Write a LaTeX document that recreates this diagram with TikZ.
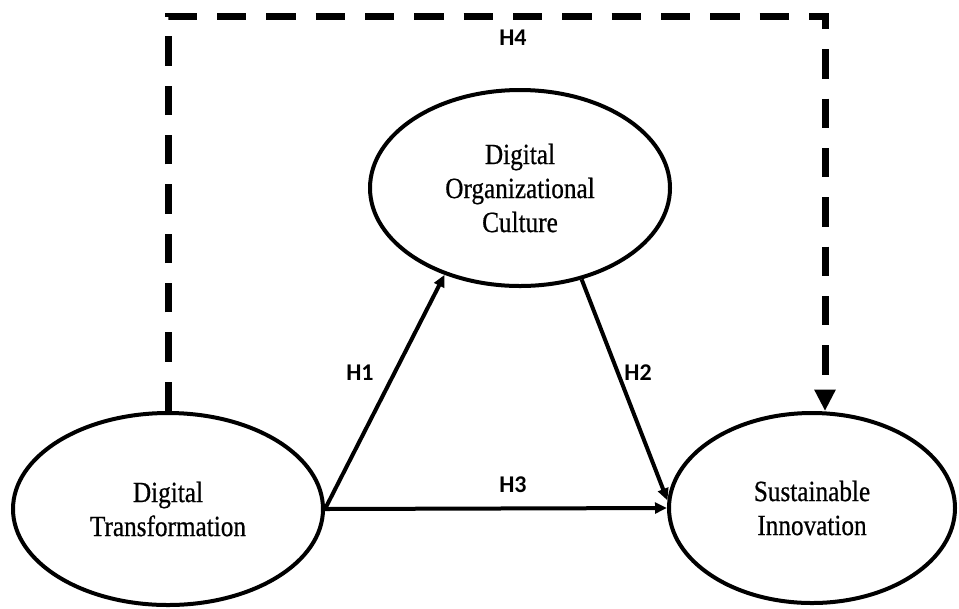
\documentclass[tikz,border=0pt]{standalone}
\usepackage{fontspec}
\setmainfont{Liberation Serif}[FakeStretch=0.86,FakeBold=0.6]
\newfontfamily\labelfont{Carlito}
\usetikzlibrary{shapes.geometric,arrows.meta}

\tikzset{
  construct/.style={draw, ellipse, line width=3pt, inner sep=0pt, align=center,
    font=\fontsize{22}{25.5}\selectfont},
  path arrow/.style={line width=3pt, -{Triangle[length=9pt,width=8pt]}},
  total arrow/.style={line width=5.25pt, dash pattern=on 22pt off 15pt,
    -{Triangle[length=16pt,width=15pt]}},
  hyp label/.style={font=\labelfont\bfseries\fontsize{18}{20}\selectfont}
}

\begin{document}
\begin{tikzpicture}[x=0.75pt,y=0.75pt,yscale=-1,xscale=1]
\useasboundingbox (0,0) rectangle (959,608);

%Constructs
\node[construct, minimum width=232.5pt, minimum height=144pt] (dt) at (168,509) {Digital\\Transformation};
\node[construct, minimum width=225pt, minimum height=147pt] (doc) at (520,188) {Digital\\Organizational\\Culture};
\node[construct, minimum width=214.5pt, minimum height=142.5pt] (si) at (812,508) {Sustainable\\Innovation};

%Direct paths
\draw[path arrow] (dt.east) -- (doc.229);
\draw[path arrow] (doc.304) -- (si.177);
\draw[path arrow] (dt.east) -- (si.west);

%Total effect (dashed)
\coordinate (h4corner) at (825,16);
\draw[total arrow] (dt.north) |- (h4corner) -- (h4corner |- si.north);

%Hypothesis labels
\node[hyp label] (h1) at (360,373) {H1};
\node[hyp label] (h2) at (638,373) {H2};
\node[hyp label] (h3) at (513,485) {H3};
\node[hyp label] (h4) at (513,38) {H4};

\end{tikzpicture}
\end{document}
